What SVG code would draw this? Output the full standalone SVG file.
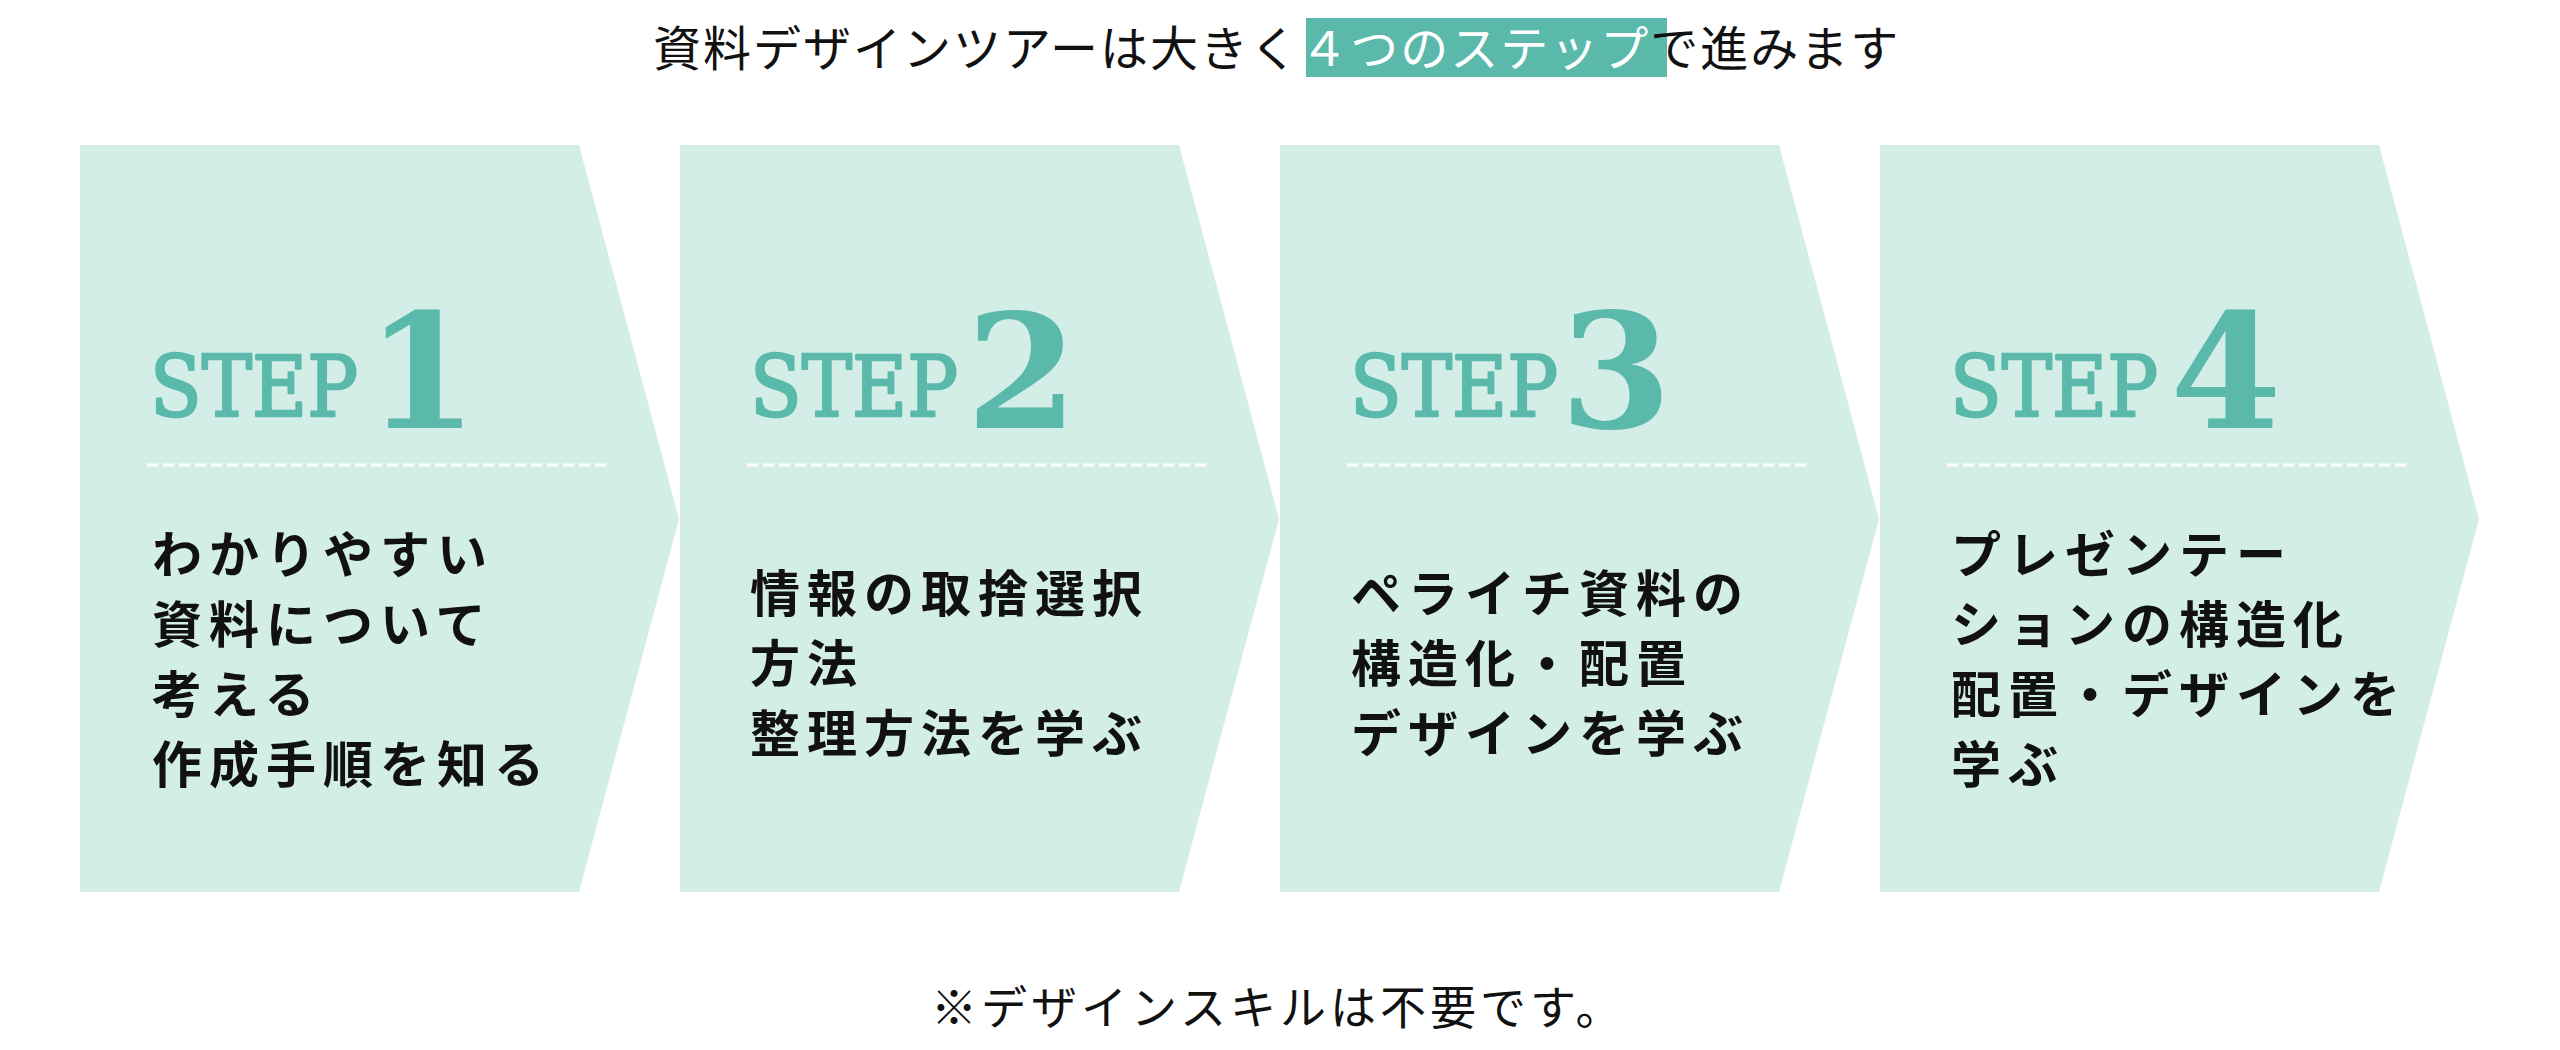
<svg xmlns="http://www.w3.org/2000/svg" width="2560" height="1050" viewBox="0 0 2560 1050">
<style>
.shape{fill:#d3ede7}
.step{font-family:"DejaVu Serif",serif;font-size:84px;font-weight:400;fill:#5ab9ab;stroke:#5ab9ab;stroke-width:2.5;stroke-linejoin:round}
.num{font-family:"DejaVu Serif",serif;font-size:160px;font-weight:700;fill:#5ab9ab;text-anchor:middle}
.dash{stroke:#ffffff;stroke-width:3;stroke-dasharray:11 5;fill:none}
.body{font-family:"Noto Sans CJK JP",sans-serif;font-size:50px;font-weight:700;letter-spacing:7px;fill:#111111}
.title{font-family:"Noto Sans CJK JP",sans-serif;font-size:48px;letter-spacing:2px;fill:#111111}
.note{font-family:"Noto Sans CJK JP",sans-serif;font-size:46px;letter-spacing:4px;fill:#111111}
</style>
<rect width="2560" height="1050" fill="#ffffff"/>
<g id="title">
<rect x="1306" y="18" width="361" height="59" fill="#5ab9ab"/>
<text class="title" x="653" y="66">資料デザインツアーは大きく<tspan fill="#ffffff">４つのステップ</tspan>で進みます</text>
</g>
<g id="step1">
<polygon class="shape" points="80,145 579,145 679,519 579,892 80,892"/>
<text class="step" x="150" y="416" textLength="208" lengthAdjust="spacingAndGlyphs">STEP</text>
<text class="num" x="422" y="428">1</text>
<line class="dash" x1="147" y1="465" x2="607" y2="465"/>
<text class="body"><tspan x="152" y="573">わかりやすい</tspan><tspan x="152" y="643">資料について</tspan><tspan x="152" y="713">考える</tspan><tspan x="152" y="783">作成手順を知る</tspan></text>
</g>
<g id="step2">
<polygon class="shape" points="680,145 1179,145 1279,519 1179,892 680,892"/>
<text class="step" x="750" y="416" textLength="208" lengthAdjust="spacingAndGlyphs">STEP</text>
<text class="num" x="1022" y="428">2</text>
<line class="dash" x1="747" y1="465" x2="1207" y2="465"/>
<text class="body"><tspan x="750" y="612">情報の取捨選択</tspan><tspan x="750" y="682">方法</tspan><tspan x="750" y="752">整理方法を学ぶ</tspan></text>
</g>
<g id="step3">
<polygon class="shape" points="1280,145 1779,145 1879,519 1779,892 1280,892"/>
<text class="step" x="1350" y="416" textLength="208" lengthAdjust="spacingAndGlyphs">STEP</text>
<text class="num" x="1616" y="428">3</text>
<line class="dash" x1="1347" y1="465" x2="1807" y2="465"/>
<text class="body"><tspan x="1351" y="612">ペライチ資料の</tspan><tspan x="1351" y="682">構造化・配置</tspan><tspan x="1351" y="752">デザインを学ぶ</tspan></text>
</g>
<g id="step4">
<polygon class="shape" points="1880,145 2379,145 2479,519 2379,892 1880,892"/>
<text class="step" x="1950" y="416" textLength="208" lengthAdjust="spacingAndGlyphs">STEP</text>
<text class="num" x="2226" y="428">4</text>
<line class="dash" x1="1947" y1="465" x2="2407" y2="465"/>
<text class="body"><tspan x="1951" y="573">プレゼンテー</tspan><tspan x="1951" y="643">ションの構造化</tspan><tspan x="1951" y="713">配置・デザインを</tspan><tspan x="1951" y="783">学ぶ</tspan></text>
</g>
<g id="connectors"/>
<g id="footnote">
<text class="note" x="931" y="1024">※デザインスキルは不要です。</text>
</g>
</svg>
